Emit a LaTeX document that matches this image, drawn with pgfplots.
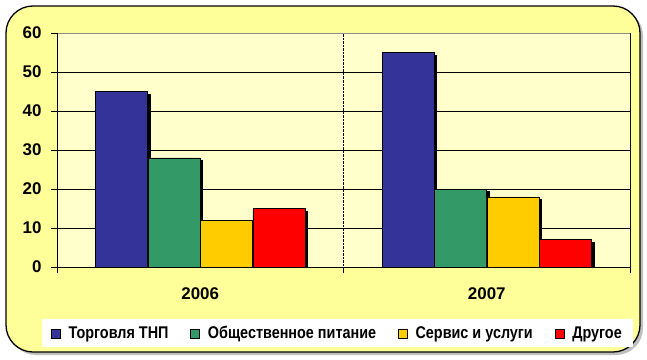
\documentclass[border=0pt]{standalone}
\usepackage{pgfplots}
\pgfplotsset{compat=1.18}
\usepackage{fontspec}
\setmainfont{Liberation Sans}
\newfontfamily\narrowfont[FakeStretch=0.85]{Liberation Sans}
\definecolor{cblue}{HTML}{333399}
\definecolor{cgreen}{HTML}{339966}
\definecolor{cyellow}{HTML}{FFCC00}
\definecolor{cred}{HTML}{FF0000}
\definecolor{outerbg}{HTML}{FFFF99}
\definecolor{innerbg}{HTML}{FFFFCC}
\begin{document}
\begin{tikzpicture}[x=1bp,y=1bp]
\useasboundingbox (0,0) rectangle (647,359);
\fill[black!25, rounded corners=27bp] (9,4) rectangle (643,350);
\filldraw[fill=outerbg, draw=black, line width=1.3bp, rounded corners=27bp] (6,7) rectangle (640,353);
\begin{axis}[
  at={(57bp,92bp)}, anchor=south west,
  scale only axis, width=573bp, height=234bp,
  xmin=-0.5, xmax=1.5, ymin=0, ymax=60,
  ytick={0,10,...,60},
  xtick={-0.5,0.5,1.5}, xticklabels={},
  extra x ticks={0,1}, extra x tick labels={2006,2007},
  extra x tick style={major tick length=0pt, grid=none, xticklabel style={yshift=-17bp}},
  tick pos=left, tick align=outside, major tick length=6bp,
  tick style={black, line width=0.6bp},
  xmajorgrids, ymajorgrids,
  x grid style={black, densely dotted, line width=0.6bp},
  y grid style={black, line width=0.6bp},
  axis line style={black, line width=0.8bp},
  axis background/.style={fill=innerbg},
  tick label style={font=\bfseries\fontsize{17}{17}\selectfont},
  /pgf/number format/assume math mode=true,
  yticklabel style={xshift=-6bp},
  ybar, bar width=0.182,
  legend columns=-1,
  legend style={at={(axis description cs:-0.0262,-0.344)}, anchor=south west,
    fill=white, draw=none, inner xsep=9bp, inner ysep=5bp,
    font=\narrowfont\bfseries\fontsize{17}{17}\selectfont,
    /tikz/every even column/.append style={column sep=20bp},
    /tikz/every odd column/.append style={column sep=6bp}},
  legend image code/.code={\draw[#1, draw=black, line width=0.5bp] (0bp,-4.5bp) rectangle (9bp,4.5bp);},
]
\addplot[forget plot, fill=black, draw=black, bar shift=-0.2745, transform canvas={xshift=2.5bp,yshift=-2.5bp}] coordinates {(0,45) (1,55)};
\addplot[fill=cblue, draw=black, line width=0.5bp, bar shift=-0.2745] coordinates {(0,45) (1,55)};
\addplot[forget plot, fill=black, draw=black, bar shift=-0.0915, transform canvas={xshift=2.5bp,yshift=-2.5bp}] coordinates {(0,28) (1,20)};
\addplot[fill=cgreen, draw=black, line width=0.5bp, bar shift=-0.0915] coordinates {(0,28) (1,20)};
\addplot[forget plot, fill=black, draw=black, bar shift=0.0915, transform canvas={xshift=2.5bp,yshift=-2.5bp}] coordinates {(0,12) (1,18)};
\addplot[fill=cyellow, draw=black, line width=0.5bp, bar shift=0.0915] coordinates {(0,12) (1,18)};
\addplot[forget plot, fill=black, draw=black, bar shift=0.2745, transform canvas={xshift=2.5bp,yshift=-2.5bp}] coordinates {(0,15) (1,7)};
\addplot[fill=cred, draw=black, line width=0.5bp, bar shift=0.2745] coordinates {(0,15) (1,7)};
\draw[black!45, line width=0.8bp] (rel axis cs:0,1) -- (rel axis cs:1,1) -- (rel axis cs:1,0);
\draw[black, line width=0.8bp] (rel axis cs:0,0) -- (rel axis cs:0,1);
\legend{Торговля ТНП, Общественное питание, Сервис и услуги, Другое}
\end{axis}
\end{tikzpicture}
\end{document}
